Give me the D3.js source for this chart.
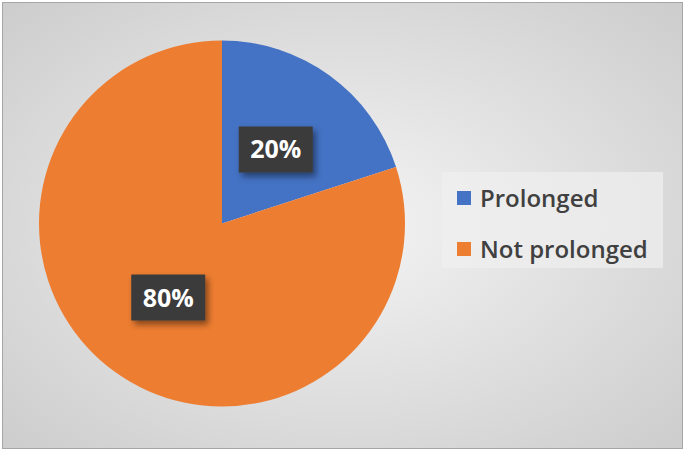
<!DOCTYPE html>
<html>
<head>
<meta charset="utf-8">
<script src="https://cdn.jsdelivr.net/npm/d3@7"></script>
<style>
  body { margin: 0; background: #fff; }
</style>
</head>
<body>
<div id="chart"></div>
<script>
var w = 685;
var h = 451;

// data
var categories = ["Prolonged", "Not prolonged"];
var values = [20, 80];
var colors = ["#4472C4", "#ED7D31"];

var cx = 222, cy = 223.5, radius = 183;

var svg = d3.select("#chart")
    .append("svg")
    .attr("width", w)
    .attr("height", h);

var defs = svg.append("defs");
var grad = defs.append("radialGradient")
    .attr("id", "bg")
    .attr("cx", "50%").attr("cy", "50%").attr("r", "70%");
grad.append("stop").attr("offset", "0%").attr("stop-color", "#f4f4f4");
grad.append("stop").attr("offset", "100%").attr("stop-color", "#cdcdcd");

var shadow = defs.append("filter").attr("id", "shadow")
    .attr("x", "-20%").attr("y", "-20%").attr("width", "150%").attr("height", "160%");
shadow.append("feDropShadow")
    .attr("dx", 3).attr("dy", 4).attr("stdDeviation", 3)
    .attr("flood-color", "#000").attr("flood-opacity", 0.45);

// background + border
svg.append("rect")
    .attr("x", 2.5).attr("y", 2.5)
    .attr("width", w - 5).attr("height", h - 5)
    .attr("fill", "url(#bg)")
    .attr("stroke", "#a6a6a6")
    .attr("stroke-width", 1);

var pie = d3.pie().sort(null);
var arcs = pie(values);
var arc = d3.arc().innerRadius(0).outerRadius(radius);
var labelArc = d3.arc().innerRadius(radius * 0.5).outerRadius(radius * 0.5);

var g = svg.append("g").attr("transform", "translate(" + cx + "," + cy + ")");

g.selectAll("path.slice")
    .data(arcs)
    .join("path")
    .attr("class", "slice")
    .attr("d", arc)
    .attr("fill", function(d, i) { return colors[i]; });

// data labels
var labels = g.selectAll("g.lbl")
    .data(arcs)
    .join("g")
    .attr("class", "lbl")
    .attr("transform", function(d) {
        var c = labelArc.centroid(d);
        return "translate(" + c[0] + "," + c[1] + ")";
    });

labels.append("rect")
    .attr("x", -37).attr("y", -23)
    .attr("width", 74).attr("height", 46)
    .attr("fill", "#3b3b3b")
    .attr("filter", "url(#shadow)");

labels.append("text")
    .attr("text-anchor", "middle")
    .attr("dy", "0.36em")
    .attr("fill", "#fff")
    .style("font-family", "'Open Sans', sans-serif")
    .style("font-weight", "bold")
    .style("font-size", "25px")
    .text(function(d) { return d.data + "%"; });

// legend
var legend = svg.append("g");
legend.append("rect")
    .attr("x", 442).attr("y", 172)
    .attr("width", 221).attr("height", 96)
    .attr("fill", "#f0f0f0")
    .attr("opacity", 0.7);

var items = legend.selectAll("g.item")
    .data(categories)
    .join("g")
    .attr("class", "item")
    .attr("transform", function(d, i) { return "translate(457," + (198 + i * 51) + ")"; });

items.append("rect")
    .attr("x", 0).attr("y", -7)
    .attr("width", 14).attr("height", 14)
    .attr("fill", function(d, i) { return colors[i]; });

items.append("text")
    .attr("x", 23)
    .attr("dy", "0.36em")
    .attr("fill", "#404040")
    .style("font-family", "'Open Sans', sans-serif")
    .style("font-weight", 600)
    .style("font-size", "24px")
    .text(function(d) { return d; });
</script>
</body>
</html>
